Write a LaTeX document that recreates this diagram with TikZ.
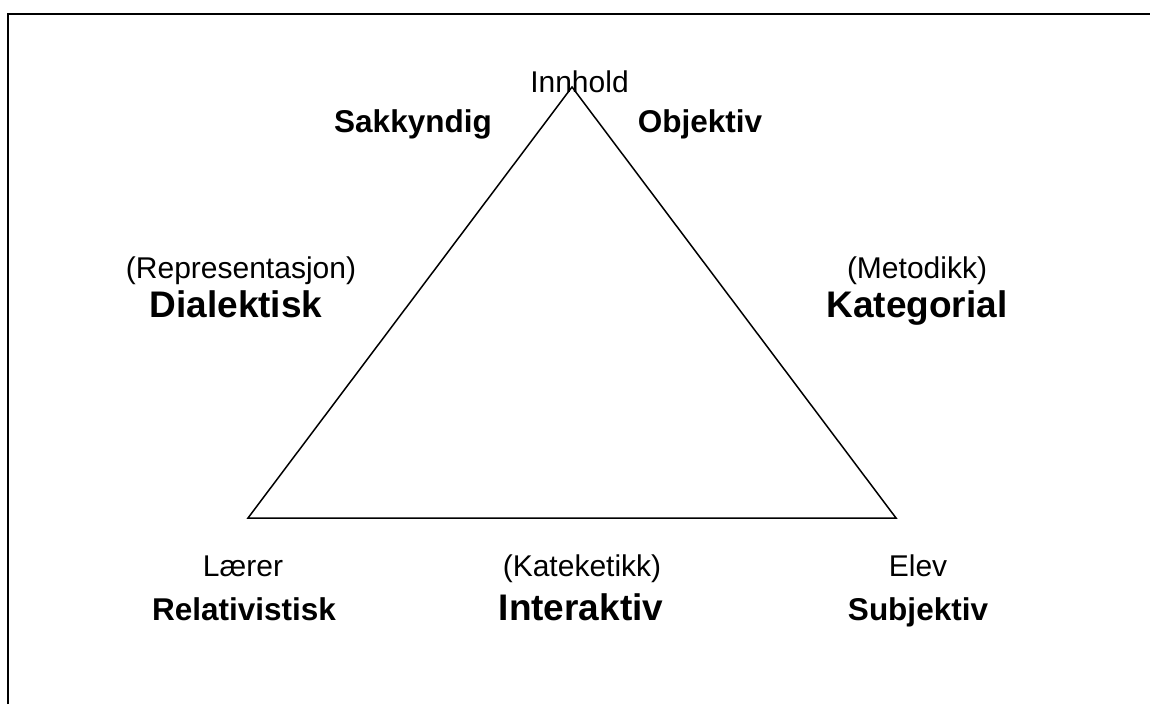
\documentclass[tikz,border=0pt]{standalone}
\usepackage{fontspec}
\setmainfont{Liberation Sans}
\begin{document}
\begin{tikzpicture}[x=1pt,y=-1pt,
  reg/.style={anchor=base,inner sep=0pt,font=\fontsize{30}{36}\selectfont},
  boldsm/.style={anchor=base,inner sep=0pt,font=\fontsize{31.5}{38}\selectfont\bfseries},
  boldlg/.style={anchor=base,inner sep=0pt,font=\fontsize{37}{44}\selectfont\bfseries},
  edge/.style={line width=1.5pt,line join=miter}]
\useasboundingbox (0,0) rectangle (1150,704);
% page frame (top and left edges)
\coordinate (fbl) at (7.5,704);
\coordinate (ftl) at (7.5,14);
\coordinate (ftr) at (1150,14);
\draw[line width=2pt] (fbl) -- (ftl) -- (ftr);
% triangle corners
\coordinate (apex) at (572,87);
\coordinate (lc) at (248,518);
\coordinate (rc) at (896,518);
\draw[edge] (apex) -- (rc) -- (lc) -- cycle;
% top labels
\node[reg] (innhold) at (579.5,92) {Innhold};
\node[boldsm] (sakkyndig) at (413,132) {Sakkyndig};
\node[boldsm] (objektiv) at (700,132) {Objektiv};
% left side
\node[reg] (repr) at (241,278) {(Representasjon)};
\node[boldlg] (dialektisk) at (236,317) {Dialektisk};
% right side
\node[reg] (metodikk) at (917,278) {(Metodikk)};
\node[boldlg] (kategorial) at (917,317) {Kategorial};
% bottom labels
\node[reg] (laerer) at (243,576) {Lærer};
\node[boldsm] (relativistisk) at (244,620) {Relativistisk};
\node[reg] (kateketikk) at (582,576) {(Kateketikk)};
\node[boldlg] (interaktiv) at (581,620) {Interaktiv};
\node[reg] (elev) at (918,576) {Elev};
\node[boldsm] (subjektiv) at (918,620) {Subjektiv};
\end{tikzpicture}
\end{document}
